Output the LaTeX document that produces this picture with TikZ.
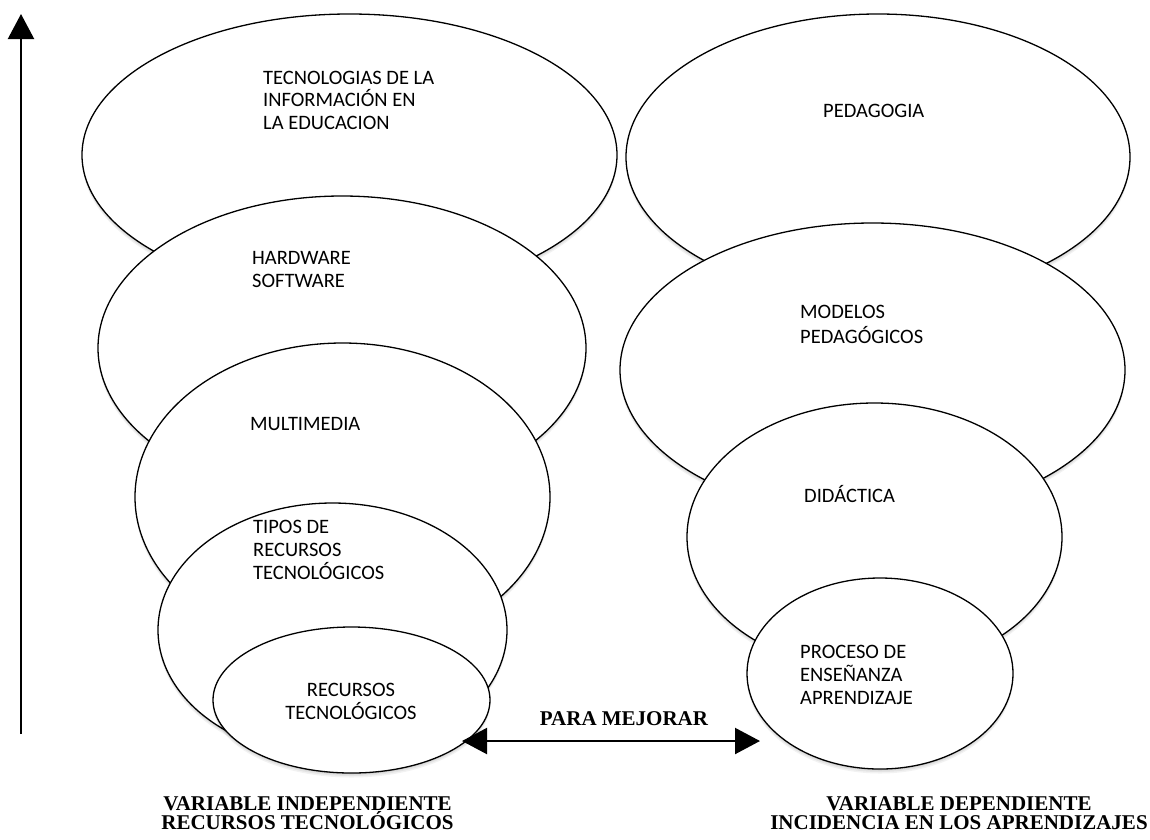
\documentclass[tikz,border=0pt]{standalone}
\usepackage{fontspec}
\newfontfamily\carlfont{Carlito}
\newfontfamily\serffont{Liberation Serif}
\usetikzlibrary{arrows.meta,shapes.geometric,shadows}
\newcommand{\Lft}[2]{\vtop{\baselineskip=#1\lineskiplimit=-1000pt\halign{##\hfil\cr#2\crcr}}}
\newcommand{\Ctr}[2]{\vtop{\baselineskip=#1\lineskiplimit=-1000pt\halign{\hfil##\hfil\cr#2\crcr}}}
\tikzset{
  ell/.style={ellipse, draw=black, line width=1.3pt, fill=white, inner sep=0pt,
    drop shadow={shadow xshift=0pt, shadow yshift=-1.5pt, opacity=0.07, fill=black},
    drop shadow={shadow xshift=0pt, shadow yshift=-3pt, opacity=0.06, fill=black},
    drop shadow={shadow xshift=0pt, shadow yshift=-4.5pt, opacity=0.05, fill=black}},
  lbl/.style={inner sep=0pt, text=black, font=\carlfont\fontsize{20.5}{23}\selectfont},
  captxt/.style={inner sep=0pt, text=black, font=\serffont\bfseries\fontsize{21}{19}\selectfont},
  arr/.style={line width=2.2pt, {Triangle[length=25pt,width=26pt]}-{Triangle[length=25pt,width=26pt]}},
  uparr/.style={line width=2.2pt, -{Triangle[length=25pt,width=26pt]}}
}
\begin{document}
\begin{tikzpicture}[x=1pt,y=-1pt]
\useasboundingbox (0,0) rectangle (1150,839);
% left column
\node[ell, minimum width=535pt, minimum height=282pt] (e1) at (349.5,155) {};
\node[ell, minimum width=488pt, minimum height=304pt] (e2) at (342,348) {};
\node[ell, minimum width=415pt, minimum height=308pt] (e3) at (342.5,497) {};
\node[ell, minimum width=349pt, minimum height=254pt] (e4) at (332.5,630) {};
\node[ell, minimum width=277pt, minimum height=146pt] (e5) at (351.5,700) {};
% right column
\node[ell, minimum width=504pt, minimum height=286pt] (r1) at (878,157) {};
\node[ell, minimum width=505pt, minimum height=294pt] (r2) at (872.5,370) {};
\node[ell, minimum width=375pt, minimum height=268pt] (r3) at (874.5,537) {};
\node[ell, minimum width=266pt, minimum height=191pt] (r4) at (880,673.5) {};
% texts
\node[lbl, anchor=base west] (t1) at (263,84) {\Lft{22.5pt}{TECNOLOGIAS DE LA\cr INFORMACIÓN EN\cr LA EDUCACION}};
\node[lbl, anchor=base west] (t2) at (252,264) {\Lft{23pt}{HARDWARE\cr SOFTWARE}};
\node[lbl, anchor=base west] (t3) at (250,430) {MULTIMEDIA};
\node[lbl, anchor=base west] (t4) at (253,533) {\Lft{23pt}{TIPOS DE\cr RECURSOS\cr TECNOLÓGICOS}};
\node[lbl, anchor=base] (t5) at (351,696) {\Ctr{23pt}{RECURSOS\cr TECNOLÓGICOS}};
\node[lbl, anchor=base west] (t6) at (823,117) {PEDAGOGIA};
\node[lbl, anchor=base west] (t7) at (800,318) {\Lft{25pt}{MODELOS\cr PEDAGÓGICOS}};
\node[lbl, anchor=base west] (t8) at (804,502) {DIDÁCTICA};
\node[lbl, anchor=base west] (t9) at (800,658) {\Lft{23pt}{PROCESO DE\cr ENSEÑANZA\cr APRENDIZAJE}};
% arrows
\coordinate (vb) at (21,734);
\coordinate (vt) at (21,14);
\draw[uparr] (vb) -- (vt);
\coordinate (al) at (462,741);
\coordinate (ar) at (760,741);
\draw[arr] (al) -- (ar);
\node[captxt, anchor=base] (pm) at (624,725) {PARA MEJORAR};
% captions
\node[captxt, anchor=base] (vi) at (307.5,810) {\Ctr{19pt}{VARIABLE INDEPENDIENTE\cr RECURSOS TECNOLÓGICOS}};
\node[captxt, anchor=base] (vd) at (959,810) {\Ctr{19pt}{VARIABLE DEPENDIENTE\cr INCIDENCIA EN LOS APRENDIZAJES}};
\end{tikzpicture}
\end{document}
